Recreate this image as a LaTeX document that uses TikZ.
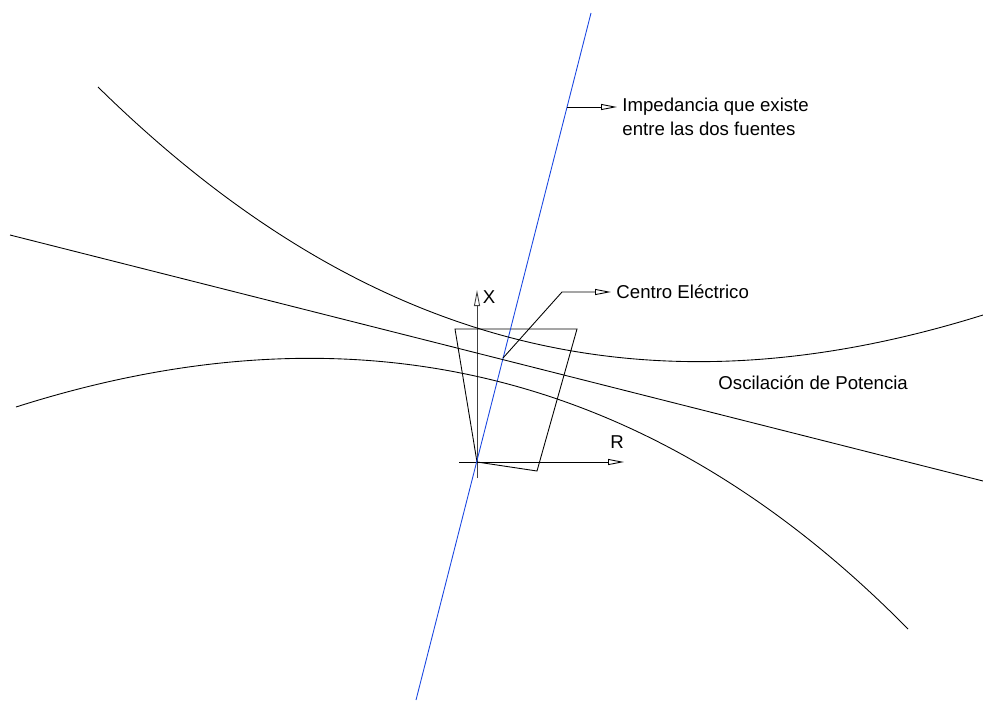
\documentclass[tikz,border=0pt]{standalone}
\usepackage{fontspec}
\setmainfont{Liberation Sans}
\usetikzlibrary{arrows.meta}
\definecolor{zline}{RGB}{25,70,225}

\begin{document}
\begin{tikzpicture}[x=0.02cm, y=-0.02cm, line width=0.5pt, font=\fontsize{10.6}{13.6}\selectfont,
            tip/.style={-{Triangle[open, length=3.2mm, width=1.2mm]}},
            lbl/.style={anchor=west, inner sep=1mm, align=left}]
            \useasboundingbox (0,0) rectangle (983,700);
            % axes and zone
            \coordinate (O) at (477,462);
            \coordinate (xs) at (477,478); \coordinate (xe) at (477,290);
            \coordinate (rs) at (459,462); \coordinate (re) at (624,462);
            \draw[tip, black!75] (xs) -- (xe);
            \draw[tip] (rs) -- (re);
            \node (xl) at (489,297) {X};
            \node (rl) at (617,442) {R};
            \draw (O) -- (455,329) -- (577,329) -- (537,471) -- cycle;
            % impedance line
            \coordinate (zb) at (416,700); \coordinate (zt) at (591,13);
            \draw[zline] (zb) -- (zt);
            % swing curves
            \draw (10,235) -- (983,481);
            \draw (98,87) .. controls (370,354) and (653,418) .. (983,315);
            \draw (16,407) .. controls (358,298) and (655,372) .. (908,629);
            % labels
            \node[lbl] (imp) at (617,117) {Impedancia que existe\\entre las dos fuentes};
            \coordinate (impA) at (567,107);
            \draw[tip] (impA) -- (impA -| imp.west);
            \node[lbl] (cen) at (611,292) {Centro Eléctrico};
            \coordinate (cA) at (503,358); \coordinate (cB) at (562,292);
            \draw[tip] (cA) -- (cB) -- (cen.west);
            \node[lbl] (osc) at (713,383) {Oscilación de Potencia};
        \end{tikzpicture}
\end{document}
